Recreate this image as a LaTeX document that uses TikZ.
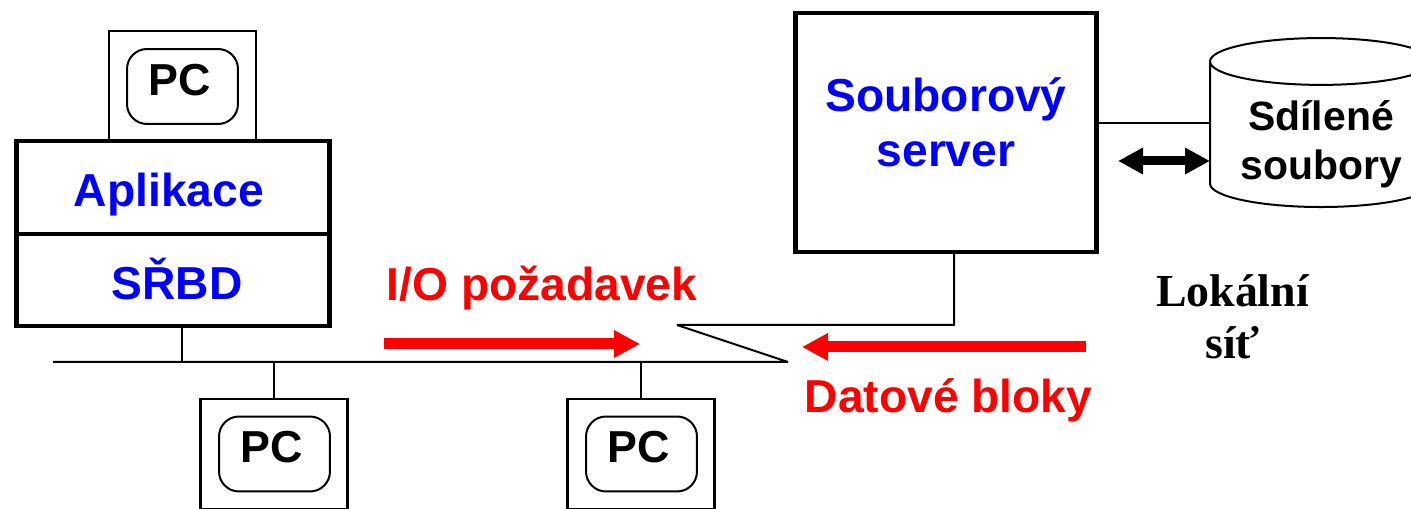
\documentclass[tikz,border=0pt]{standalone}
\usepackage{fontspec}
\setmainfont{Liberation Sans}
\newfontfamily\lanfont{Liberation Serif}
\usetikzlibrary{arrows.meta,shapes.geometric}
\tikzset{
	pcbox/.style={draw, line width=0.05cm, minimum width=2.94cm, minimum height=2.2cm},
	pcscreen/.style={draw, line width=0.04cm, rounded corners=0.4cm, minimum width=2.22cm, minimum height=1.5cm},
	pctext/.style={anchor=base, font=\fontsize{25.5}{30}\bfseries},
	dbbox/.style={draw, line width=0.09cm, minimum width=6.26cm},
	bluetext/.style={anchor=base, text=blue, font=\fontsize{26.3}{30}\bfseries},
	redtext/.style={anchor=base, text=red, font=\fontsize{26.3}{30}\bfseries},
	disktext/.style={anchor=base, font=\fontsize{23.3}{28}\bfseries},
	lantext/.style={anchor=base, font=\fontsize{26.1}{30}\lanfont\bfseries},
	redarrow/.style={draw=red, line width=0.22cm, -{Triangle[length=0.52cm,width=0.52cm]}},
	wire/.style={line width=0.04cm, line join=bevel},
}
\begin{document}
\begin{tikzpicture}[x=0.02cm, y=-0.02cm]
	\useasboundingbox (0,0) rectangle (1411,509);
	\clip (0,0) rectangle (1411,509);

	\node [pcbox] (pctop) at (182.5,86) {};
	\node [pcscreen] (screentop) at (182.5,86.5) {};
	\node [pctext] (pctoplabel) at (180,96) {PC};

	\node [dbbox, minimum height=1.86cm] (aplikace) at (173,187.5) {};
	\node [dbbox, minimum height=1.84cm] (srbd) at (173,280) {};
	\node [bluetext] (aplikacelabel) at (169,207) {Aplikace};
	\node [bluetext] (srbdlabel) at (177,300) {SŘBD};

	\node [pcbox] (pcleft) at (274,454) {};
	\node [pcscreen] (screenleft) at (274.5,454) {};
	\node [pctext] (pcleftlabel) at (272,463) {PC};

	\node [pcbox] (pcright) at (641,454) {};
	\node [pcscreen] (screenright) at (641.5,454) {};
	\node [pctext] (pcrightlabel) at (639,463) {PC};

	\node [draw, line width=0.09cm, minimum width=6.02cm, minimum height=4.78cm] (server) at (946,132.5) {};
	\node [bluetext] (serverlabela) at (946,112) {Souborový};
	\node [bluetext] (serverlabelb) at (946,167) {server};

	\node [draw, line width=0.04cm, cylinder, shape border rotate=90, aspect=4, minimum width=4.44cm, minimum height=3.38cm] (disk) at (1321,138.5) {};
	\node [disktext] (disklabela) at (1321,131) {Sdílené};
	\node [disktext] (disklabelb) at (1321,180) {soubory};

	\coordinate (lanleft) at (53,362);
	\coordinate (lanend) at (788,362);
	\coordinate (lanbend) at (677,325);
	\coordinate (lancorner) at (954,325);
	\coordinate (diskport) at (1210,123);

	\draw [wire] (lanleft) -- (lanend) -- (lanbend) -- (lancorner) -- (lancorner |- server.south);
	\draw [wire] (srbd.south -| 182,0) -- (182,362);
	\draw [wire] (pcleft.north) -- (pcleft.north |- lanend);
	\draw [wire] (pcright.north) -- (pcright.north |- lanend);
	\draw [wire] (server.east |- diskport) -- (diskport);

	\coordinate (diskarrowa) at (1118,161);
	\coordinate (diskarrowb) at (1210,161);
	\draw [line width=0.18cm, {Triangle[length=0.5cm,width=0.5cm]}-{Triangle[length=0.5cm,width=0.5cm]}] (diskarrowa) -- (diskarrowb);

	\coordinate (reqstart) at (384,344);
	\coordinate (reqend) at (640,344);
	\coordinate (datastart) at (1086,347);
	\coordinate (dataend) at (802,347);
	\draw [redarrow] (reqstart) -- (reqend);
	\draw [redarrow] (datastart) -- (dataend);

	\node [redtext] (reqlabel) at (542,301) {I/O požadavek};
	\node [redtext] (datalabel) at (948.5,413) {Datové bloky};
	\node [lantext] (lanlabela) at (1232.5,307) {Lokální};
	\node [lantext] (lanlabelb) at (1232.5,359) {síť};
\end{tikzpicture}
\end{document}
